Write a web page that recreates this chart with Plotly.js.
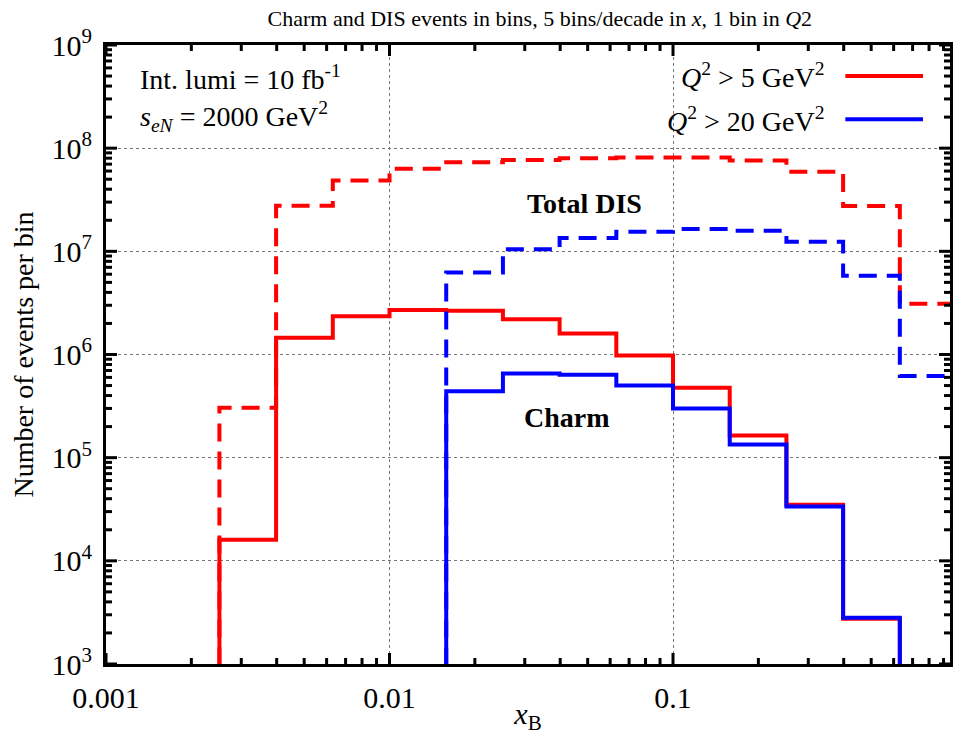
<!DOCTYPE html>
<html>
<head>
<meta charset="utf-8">
<script src="https://cdn.plot.ly/plotly-3.0.1.min.js"></script>
<style>html,body{margin:0;padding:0;background:#fff;}#chart{width:955px;height:735px;}</style>
</head>
<body>
<div id="chart"></div>
<script>
// Bin edges: 5 bins per decade in x
const binEdges = [0.002512, 0.003981, 0.00631, 0.01, 0.01585, 0.02512, 0.03981, 0.0631, 0.1, 0.1585, 0.2512, 0.3981, 0.631, 1.0];

// Total DIS, Q^2 > 5 GeV^2 (bins start at edge index 0)
const totalDIS_Q5 = [3.05e5, 2.77e7, 4.85e7, 6.3e7, 7.3e7, 7.7e7, 8.0e7, 8.1e7, 8.1e7, 7.6e7, 5.9e7, 2.75e7, 3.1e6];
const totalDIS_Q5_start = 0;
// Total DIS, Q^2 > 20 GeV^2 (bins start at edge index 4)
const totalDIS_Q20 = [6.25e6, 1.05e7, 1.35e7, 1.55e7, 1.65e7, 1.58e7, 1.24e7, 5.8e6, 6.2e5];
const totalDIS_Q20_start = 4;
// Charm, Q^2 > 5 GeV^2 (bins start at edge index 0)
const charm_Q5 = [1.6e4, 1.45e6, 2.35e6, 2.7e6, 2.65e6, 2.2e6, 1.6e6, 9.8e5, 4.75e5, 1.64e5, 3.5e4, 2.75e3];
const charm_Q5_start = 0;
// Charm, Q^2 > 20 GeV^2 (bins start at edge index 4)
const charm_Q20 = [4.4e5, 6.55e5, 6.35e5, 5.0e5, 3.0e5, 1.34e5, 3.37e4, 2.8e3];
const charm_Q20_start = 4;

const xTickVals = [0.001, 0.01, 0.1];
const xTickText = ['0.001', '0.01', '0.1'];
const yTickVals = [1e3, 1e4, 1e5, 1e6, 1e7, 1e8, 1e9];
const yTickText = ['10<sup>3</sup>', '10<sup>4</sup>', '10<sup>5</sup>', '10<sup>6</sup>', '10<sup>7</sup>', '10<sup>8</sup>', '10<sup>9</sup>'];

const FLOOR = 1; // below the visible range, so histograms rise from the bottom frame
const X_RANGE_LOG = [-3, -0.023];
const Y_RANGE_LOG = [3, 9];

function stepTrace(vals, startIdx, color, dash) {
  const x = [binEdges[startIdx]], y = [FLOOR];
  for (let i = 0; i < vals.length; i++) { x.push(binEdges[startIdx + i]); y.push(vals[i]); }
  x.push(binEdges[startIdx + vals.length]); y.push(FLOOR);
  return { x, y, type: 'scatter', mode: 'lines', line: { shape: 'hv', color, width: 4, dash }, showlegend: false, hoverinfo: 'skip' };
}

// minor tick positions (2..9 within each decade)
function minorLogTicks(loExp, hiExp) {
  const out = [];
  for (let e = loExp; e < hiExp; e++) for (let m = 2; m <= 9; m++) out.push(m * Math.pow(10, e));
  return out;
}

const RED = '#ff0000', BLUE = '#0000ff';
const DASH = '18px,10px';
const data = [
  stepTrace(totalDIS_Q5, totalDIS_Q5_start, RED, DASH),
  stepTrace(charm_Q5, charm_Q5_start, RED, 'solid'),
  stepTrace(totalDIS_Q20, totalDIS_Q20_start, BLUE, DASH),
  stepTrace(charm_Q20, charm_Q20_start, BLUE, 'solid')
];

// tick marks on all four sides of the frame, drawn as shapes
const PLOT_W = 955 - 106 - 5, PLOT_H = 735 - 45 - 71;
function frameTicks(xvals, yvals, len, width) {
  const s = [];
  const fx = len / PLOT_H, fy = len / PLOT_W;
  xvals.filter(v => Math.log10(v) <= X_RANGE_LOG[1]).forEach(v => {
    s.push({ type: 'line', xref: 'x', yref: 'paper', x0: v, x1: v, y0: 0, y1: fx, line: { color: 'black', width } });
    s.push({ type: 'line', xref: 'x', yref: 'paper', x0: v, x1: v, y0: 1, y1: 1 - fx, line: { color: 'black', width } });
  });
  yvals.forEach(v => {
    s.push({ type: 'line', xref: 'paper', yref: 'y', y0: v, y1: v, x0: 0, x1: fy, line: { color: 'black', width } });
    s.push({ type: 'line', xref: 'paper', yref: 'y', y0: v, y1: v, x0: 1, x1: 1 - fy, line: { color: 'black', width } });
  });
  return s;
}
const tickShapes = frameTicks(minorLogTicks(-3, 0), minorLogTicks(3, 9), 6, 3)
  .concat(frameTicks(xTickVals, yTickVals, 11, 3));

const SERIF = "'Liberation Serif', 'Times New Roman', Times, serif";
const axisCommon = {
  type: 'log', showline: true, linecolor: 'black', linewidth: 3, mirror: true,
  ticks: '', showgrid: true, gridcolor: '#777', gridwidth: 1, griddash: 'dot',
  zeroline: false, tickmode: 'array', ticklabelstandoff: 5,
  tickfont: { family: SERIF, size: 30, color: 'black' }
};

const layout = {
  width: 955, height: 735,
  margin: { l: 106, r: 5, t: 45, b: 71 },
  paper_bgcolor: 'white', plot_bgcolor: 'white',
  font: { family: SERIF, color: 'black' },
  title: { text: 'Charm and DIS events in bins, 5 bins/decade in <i>x</i>, 1 bin in <i>Q</i>2',
           font: { family: SERIF, size: 22, color: 'black' }, xref: 'paper', x: 0.514, xanchor: 'center',
           yref: 'container', y: 1 - 18/735, yanchor: 'middle' },
  xaxis: Object.assign({}, axisCommon, {
    range: X_RANGE_LOG, tickvals: xTickVals, ticktext: xTickText,
    title: { text: '<i>x</i><sub>B</sub>', font: { family: SERIF, size: 30 }, standoff: 8 }
  }),
  yaxis: Object.assign({}, axisCommon, {
    range: Y_RANGE_LOG, tickvals: yTickVals, ticktext: yTickText,
    title: { text: 'Number of events per bin', font: { family: SERIF, size: 28 }, standoff: 10 }
  }),
  annotations: [
    { xref: 'paper', yref: 'paper', x: 0.038, y: 0.948, xanchor: 'left', yanchor: 'middle', showarrow: false,
      text: 'Int. lumi = 10 fb<sup>-1</sup>', font: { family: SERIF, size: 28 } },
    { xref: 'paper', yref: 'paper', x: 0.038, y: 0.885, xanchor: 'left', yanchor: 'middle', showarrow: false,
      text: '<i>s</i><sub><i>eN</i></sub> = 2000 GeV<sup>2</sup>', font: { family: SERIF, size: 28 } },
    { xref: 'paper', yref: 'paper', x: 0.854, y: 0.950, xanchor: 'right', yanchor: 'middle', showarrow: false,
      text: '<i>Q</i><sup>2</sup> > 5 GeV<sup>2</sup>', font: { family: SERIF, size: 28 } },
    { xref: 'paper', yref: 'paper', x: 0.854, y: 0.880, xanchor: 'right', yanchor: 'middle', showarrow: false,
      text: '<i>Q</i><sup>2</sup> > 20 GeV<sup>2</sup>', font: { family: SERIF, size: 28 } },
    { xref: 'paper', yref: 'paper', x: (584-106)/844, y: (664-203)/619, xanchor: 'center', yanchor: 'middle', showarrow: false,
      text: '<b>Total DIS</b>', font: { family: SERIF, size: 28 } },
    { xref: 'paper', yref: 'paper', x: (567-106)/844, y: (664-417)/619, xanchor: 'center', yanchor: 'middle', showarrow: false,
      text: '<b>Charm</b>', font: { family: SERIF, size: 28 } }
  ],
  shapes: [
    { type: 'line', xref: 'paper', yref: 'paper', x0: 0.876, x1: 0.968, y0: 0.950, y1: 0.950, line: { color: RED, width: 4 } },
    { type: 'line', xref: 'paper', yref: 'paper', x0: 0.876, x1: 0.968, y0: 0.880, y1: 0.880, line: { color: BLUE, width: 4 } }
  ].concat(tickShapes)
};

Plotly.newPlot('chart', data, layout, { staticPlot: true, displayModeBar: false });
</script>
</body>
</html>
